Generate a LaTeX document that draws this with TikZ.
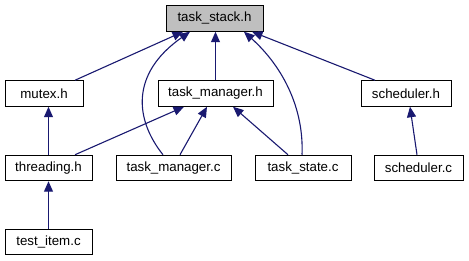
\documentclass[tikz,border=0pt]{standalone}
\usepackage{fontspec}
\setmainfont{Liberation Sans}
\usetikzlibrary{arrows.meta}
\definecolor{edgeblue}{HTML}{191970}
\definecolor{rootgray}{HTML}{BFBFBF}
\tikzset{
  file/.style={draw=black, line width=1pt, fill=white, inner sep=0pt,
    minimum height=25.5pt, font=\fontsize{13.3}{16}\selectfont},
  rootfile/.style={file, fill=rootgray},
  edge/.style={draw=edgeblue, line width=1.1pt, -{Triangle[length=10.5pt,width=9pt]}},
}
\begin{document}
\begin{tikzpicture}[x=1pt, y=-1pt]
  \useasboundingbox (0,0) rectangle (469,261);
  % header nodes
  \node[rootfile, minimum width=97pt] (ts) at (214.5,18.5) {task\_stack.h};
  \node[file, minimum width=78pt] (mutex) at (44,93.5) {mutex.h};
  \node[file, minimum width=115pt] (tmh) at (215.5,93.5) {task\_manager.h};
  \node[file, minimum width=90pt] (sch) at (406,93.5) {scheduler.h};
  \node[file, minimum width=87pt] (thr) at (48.5,168) {threading.h};
  \node[file, minimum width=115pt] (tmc) at (173.5,168) {task\_manager.c};
  \node[file, minimum width=96pt] (tsc) at (303,168) {task\_state.c};
  \node[file, minimum width=89pt] (schc) at (418.5,168) {scheduler.c};
  \node[file, minimum width=87pt] (ti) at (48.5,242) {test\_item.c};

  % includes of task_stack.h
  \draw[edge] ([xshift=31pt]mutex.north) -- ([xshift=-31.5pt]ts.south);
  \draw[edge] ([xshift=-10.5pt]tmc.north) .. controls +(-28,-35) and +(-60,42) .. ([xshift=-24.5pt]ts.south);
  \draw[edge] (tmh.north) -- (tmh.north |- ts.south);
  \draw[edge] ([xshift=-1pt]tsc.north) .. controls +(2,-45) and +(40,36) .. ([xshift=29.5pt]ts.south);
  \draw[edge] ([xshift=-31pt]sch.north) -- ([xshift=37.5pt]ts.south);

  % includes of mutex.h and task_manager.h
  \draw[edge] (thr.north) -- (thr.north |- mutex.south);
  \draw[edge] ([xshift=26.5pt]thr.north) -- ([xshift=-31.5pt]tmh.south);
  \draw[edge] ([xshift=6.5pt]tmc.north) -- ([xshift=-8.5pt]tmh.south);
  \draw[edge] ([xshift=-15pt]tsc.north) -- ([xshift=17.5pt]tmh.south);

  % scheduler.c and test_item.c
  \draw[edge] ([xshift=-1.5pt]schc.north) -- ([xshift=4pt]sch.south);
  \draw[edge] (ti.north) -- (thr.south);
\end{tikzpicture}
\end{document}
